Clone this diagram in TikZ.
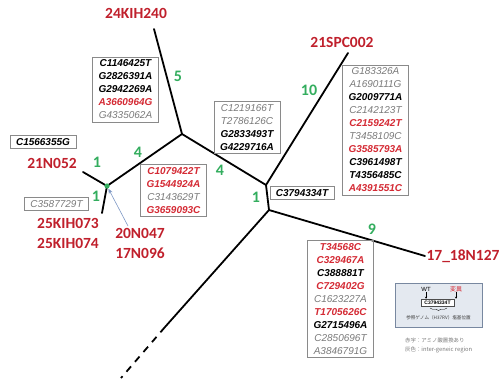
\documentclass[tikz,border=0pt]{standalone}
\usepackage{fontspec}
\setmainfont{Liberation Sans}
\newfontfamily\lbl{Carlito}
\newfontfamily\jp{Noto Sans CJK JP}
\usetikzlibrary{arrows.meta,decorations.pathreplacing}
\definecolor{mred}{HTML}{D42A34}
\definecolor{lred}{HTML}{C0202C}
\definecolor{mgray}{HTML}{7A7A7A}
\definecolor{mgreen}{HTML}{33AD5E}
\definecolor{bord}{HTML}{8A8A8A}
\definecolor{legfill}{HTML}{E4E9F0}
\definecolor{legbord}{HTML}{7888A0}
\definecolor{arblue}{HTML}{7D97C4}
\newcommand{\rd}[1]{\textcolor{mred}{#1}}
\newcommand{\gy}[1]{\textcolor{mgray}{\mdseries #1}}
\tikzset{
  branch/.style={line width=1.8pt, line cap=round},
  mbox/.style={draw=bord, line width=0.7pt, align=center, inner xsep=6pt, inner ysep=3pt,
    font=\fontsize{10}{13}\selectfont\bfseries\itshape},
  gbox/.style={mbox, font=\fontsize{10}{13}\selectfont\itshape},
  strain/.style={text=lred, align=center, font=\lbl\fontsize{15.5}{20}\selectfont\bfseries},
  num/.style={text=mgreen, font=\lbl\fontsize{16}{18}\selectfont\bfseries},
}
\begin{document}
\begin{tikzpicture}[x=1pt,y=-1pt]
\useasboundingbox (0,0) rectangle (502,381);
% tree coordinates
\coordinate (A) at (107,186);
\coordinate (B) at (182,134);
\coordinate (C) at (266,185);
\coordinate (D) at (269,210);
\coordinate (l21N) at (83,172);
\coordinate (l25K) at (102,213);
\coordinate (l24K) at (154,29);
\coordinate (l21S) at (348,53);
\coordinate (l17) at (425,256);
\coordinate (dsh) at (165,327);
\coordinate (dend) at (121,378);
\draw[branch] (l21N) -- (A);
\draw[branch] (A) -- (l25K);
\draw[branch] (A) -- (B);
\draw[branch] (B) -- (l24K);
\draw[branch] (B) -- (C);
\draw[branch] (C) -- (l21S);
\draw[branch] (C) -- (D);
\draw[branch] (D) -- (l17);
\draw[branch] (D) -- (dsh);
\draw[branch, dash pattern=on 7pt off 6pt, line cap=butt] (dsh) -- (dend);
\fill[mgreen] (A) circle (2.6pt);
% strain labels
\node[strain] (s24) at (136,13) {24KIH240};
\node[strain] (s21S) at (342,42) {21SPC002};
\node[strain] (s21N) at (52,163) {21N052};
\node[strain, align=center] (s25) at (68,233) {25KIH073\\25KIH074};
\node[strain, align=center] (s20) at (140,243) {20N047\\17N096};
\node[strain] (s17) at (463,256) {17\_18N127};
% blue arrow
\coordinate (arS) at (128,226);
\draw[-{Stealth[length=5pt,width=4pt]}, color=arblue, line width=0.6pt, shorten >=3pt] (arS) -- (A);
% numbers
\node[num] (n5) at (178,76) {5};
\node[num] (n4a) at (138,152) {4};
\node[num] (n4b) at (220,170) {4};
\node[num] (n1a) at (97,162) {1};
\node[num] (n1b) at (96,196) {1};
\node[num] (n1c) at (256,197) {1};
\node[num] (n10) at (309,90) {10};
\node[num] (n9) at (372,229) {9};
% mutation boxes
\node[mbox] (b1) at (125.5,89.5) {C1146425T\\G2826391A\\G2942269A\\\rd{A3660964G}\\\gy{G4335062A}};
\node[mbox] (b2) at (43,142) {C1566355G};
\node[mbox] (b3) at (173.5,190.5) {\rd{C1079422T}\\\rd{G1544924A}\\\gy{C3143629T}\\\rd{G3659093C}};
\node[gbox, text=mgray] (b4) at (56.5,204) {C3587729T};
\node[mbox] (b5) at (247,127.5) {\gy{C1219166T}\\\gy{T2786126C}\\G2833493T\\G4229716A};
\node[mbox] (b6) at (375.5,130) {\gy{G183326A}\\\gy{A1690111G}\\G2009771A\\\gy{C2142123T}\\\rd{C2159242T}\\\gy{T3458109C}\\\rd{G3585793A}\\C3961498T\\T4356485C\\\rd{A4391551C}};
\node[mbox] (b7) at (302,193) {C3794334T};
\node[mbox] (b8) at (340.5,299) {\rd{T34568C}\\\rd{C329467A}\\C388881T\\\rd{C729402G}\\\gy{C1623227A}\\\rd{T1705626C}\\G2715496A\\\gy{C2850696T}\\\gy{A3846791G}};
% legend
\node[draw=legbord, fill=legfill, line width=0.8pt, minimum width=87pt, minimum height=44pt, inner sep=0pt] (leg) at (438.5,305) {};
\node[inner sep=0.5pt, font=\fontsize{6}{7}\selectfont] (wt) at (426,289) {WT};
\node[inner sep=0.5pt, text=mred, font=\jp\fontsize{6}{7}\selectfont] (mu) at (456,289) {変異};
\node[draw=black!70, fill=white, line width=0.5pt, minimum width=33pt, minimum height=7pt, inner sep=0pt, font=\fontsize{5}{5}\selectfont\bfseries] (ib) at (437.5,302.5) {C3794334T};
\draw[-{Stealth[length=2pt,width=2pt]}, line width=0.4pt] (wt.south) -- (ib.north west -| wt.south);
\draw[-{Stealth[length=2pt,width=2pt]}, line width=0.4pt] (mu.south) -- (ib.north east -| mu.south);
\coordinate (brL) at (430,308);
\coordinate (brR) at (447,308);
\draw[decorate, decoration={brace, amplitude=2.5pt, mirror}, line width=0.4pt] (brL) -- (brR);
\node[inner sep=0pt, font=\jp\fontsize{4.6}{5}\selectfont, text=black!75] (ref) at (438.5,318) {参照ゲノム（H37RV）塩基位置};
\node[inner sep=0pt, anchor=west, text=mgray, align=left, font=\jp\fontsize{5.4}{9}\selectfont] (lt) at (405,345.5) {赤字：アミノ酸置換あり\\灰色：\fontsize{5.8}{9}\selectfont inter-geneic region};
\end{tikzpicture}
\end{document}
